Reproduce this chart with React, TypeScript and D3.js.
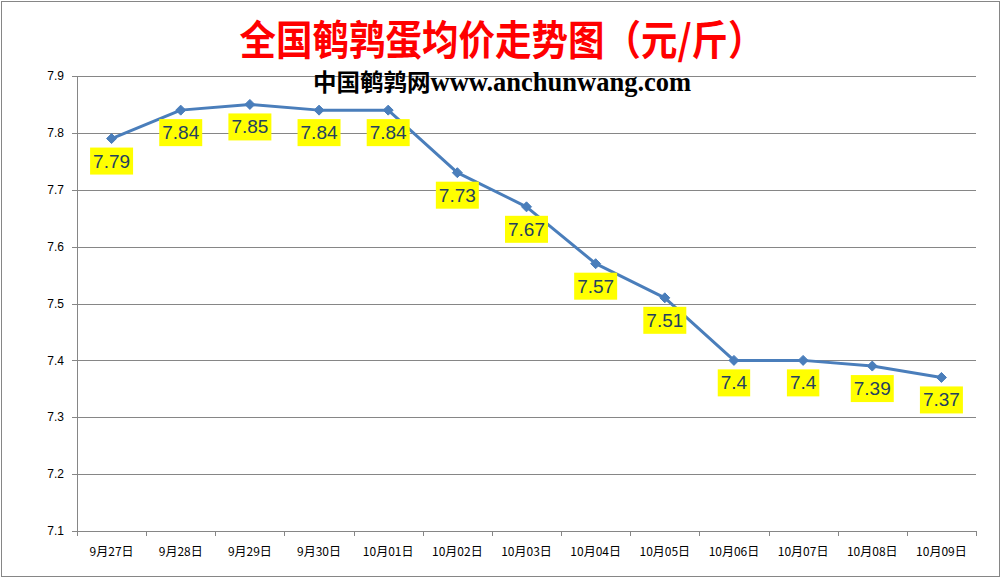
import React, { useEffect, useRef } from "react";
import * as d3 from "d3";

const categories = ["9月27日", "9月28日", "9月29日", "9月30日", "10月01日", "10月02日", "10月03日", "10月04日", "10月05日", "10月06日", "10月07日", "10月08日", "10月09日"];
const prices = [7.79, 7.84, 7.85, 7.84, 7.84, 7.73, 7.67, 7.57, 7.51, 7.4, 7.4, 7.39, 7.37];
const yTicks = [7.1, 7.2, 7.3, 7.4, 7.5, 7.6, 7.7, 7.8, 7.9];
const title = "全国鹌鹑蛋均价走势图（元/斤）";
const subCn = "中国鹌鹑网";
const subEn = "www.anchunwang.com";

const W = 1005;
const H = 579;

export default function App() {
  const ref = useRef<SVGSVGElement | null>(null);

  useEffect(() => {
    const svg = d3.select(ref.current);
    svg.selectAll("*").remove();

    svg.append("rect").attr("x", 0).attr("y", 0).attr("width", W).attr("height", H).attr("fill", "#fff");
    svg.append("rect").attr("x", 1.5).attr("y", 1.5).attr("width", 998).attr("height", 575)
      .attr("fill", "none").attr("stroke", "#868686").attr("stroke-width", 1);

    const left = 77, right = 976, top = 76, bottom = 531;
    const x = d3.scaleBand<string>().domain(categories).range([left, right]);
    const y = d3.scaleLinear().domain([7.1, 7.9]).range([bottom, top]);
    const grid = "#868686";

    // gridlines
    svg.append("g").selectAll("line").data(yTicks.slice(1)).join("line")
      .attr("x1", left).attr("x2", right)
      .attr("y1", d => Math.round(y(d)) + 0.5).attr("y2", d => Math.round(y(d)) + 0.5)
      .attr("stroke", grid).attr("stroke-width", 1);

    // y axis
    svg.append("line").attr("x1", left + 0.5).attr("x2", left + 0.5).attr("y1", top).attr("y2", bottom + 0.5)
      .attr("stroke", grid);
    svg.append("g").selectAll("line").data(yTicks).join("line")
      .attr("x1", left - 5).attr("x2", left)
      .attr("y1", d => Math.round(y(d)) + 0.5).attr("y2", d => Math.round(y(d)) + 0.5)
      .attr("stroke", grid);
    svg.append("g").selectAll("text").data(yTicks).join("text")
      .attr("x", 64).attr("y", d => y(d)).attr("dy", "0.35em")
      .attr("text-anchor", "end").attr("font-size", 12)
      .attr("font-family", "'Liberation Sans', Arial, sans-serif").attr("fill", "#000")
      .text(d => d.toFixed(1));

    // x axis
    svg.append("line").attr("x1", left).attr("x2", right + 0.5)
      .attr("y1", Math.round(y(7.1)) + 0.5).attr("y2", Math.round(y(7.1)) + 0.5).attr("stroke", grid);
    const tickXs = categories.map(c => x(c)!).concat([right]);
    svg.append("g").selectAll("line").data(tickXs).join("line")
      .attr("x1", d => Math.round(d) + 0.5).attr("x2", d => Math.round(d) + 0.5)
      .attr("y1", bottom).attr("y2", bottom + 5).attr("stroke", grid);
    svg.append("g").selectAll("text").data(categories).join("text")
      .attr("x", d => x(d)! + x.bandwidth() / 2).attr("y", 552).attr("dy", "0.35em")
      .attr("text-anchor", "middle").attr("font-size", 12)
      .attr("font-family", "'Noto Sans CJK SC', sans-serif").attr("fill", "#000")
      .text(d => d);

    // line
    const pts = categories.map((c, i) => [x(c)! + x.bandwidth() / 2, y(prices[i])] as [number, number]);
    svg.append("path").attr("d", d3.line()(pts)!).attr("fill", "none")
      .attr("stroke", "#4A7EBB").attr("stroke-width", 3).attr("stroke-linejoin", "round");
    svg.append("g").selectAll("path").data(pts).join("path")
      .attr("d", "M0,-5L5,0L0,5L-5,0Z")
      .attr("transform", d => `translate(${d[0]},${d[1]})`)
      .attr("fill", "#4A7EBB").attr("stroke", "#4A7EBB").attr("stroke-width", 1);

    // labels
    const lg = svg.append("g");
    pts.forEach((p, i) => {
      const g = lg.append("g");
      const t = g.append("text")
        .attr("x", p[0]).attr("y", p[1] + 9 + 20)
        .attr("text-anchor", "middle").attr("font-size", 19)
        .attr("font-family", "'Liberation Sans', Arial, sans-serif").attr("fill", "#243F60")
        .text(String(prices[i]));
      const w = (t.node() as SVGTextElement).getComputedTextLength();
      g.insert("rect", "text")
        .attr("x", p[0] - w / 2 - 3).attr("y", p[1] + 9)
        .attr("width", w + 6).attr("height", 27).attr("fill", "#FFFF00");
    });

    // title
    svg.append("text").attr("transform", "translate(502,55) scale(1,1.12)").attr("text-anchor", "middle")
      .attr("font-size", 36.5).attr("font-weight", "bold")
      .attr("font-family", "'Noto Sans CJK SC', sans-serif").attr("fill", "#FF0000")
      .text(title);

    const st = svg.append("text").attr("x", 313).attr("y", 91).attr("font-weight", "bold").attr("fill", "#000");
    st.append("tspan").attr("font-size", 23.5).attr("font-family", "'Noto Sans CJK SC', sans-serif").text(subCn);
    st.append("tspan").attr("font-size", 26.5).attr("font-family", "'Liberation Serif', 'Times New Roman', serif").text(subEn);
  }, []);

  return (
    <div style={{ position: "absolute", left: 0, top: 0 }}>
      <svg ref={ref} width={W} height={H} style={{ display: "block" }} />
    </div>
  );
}
